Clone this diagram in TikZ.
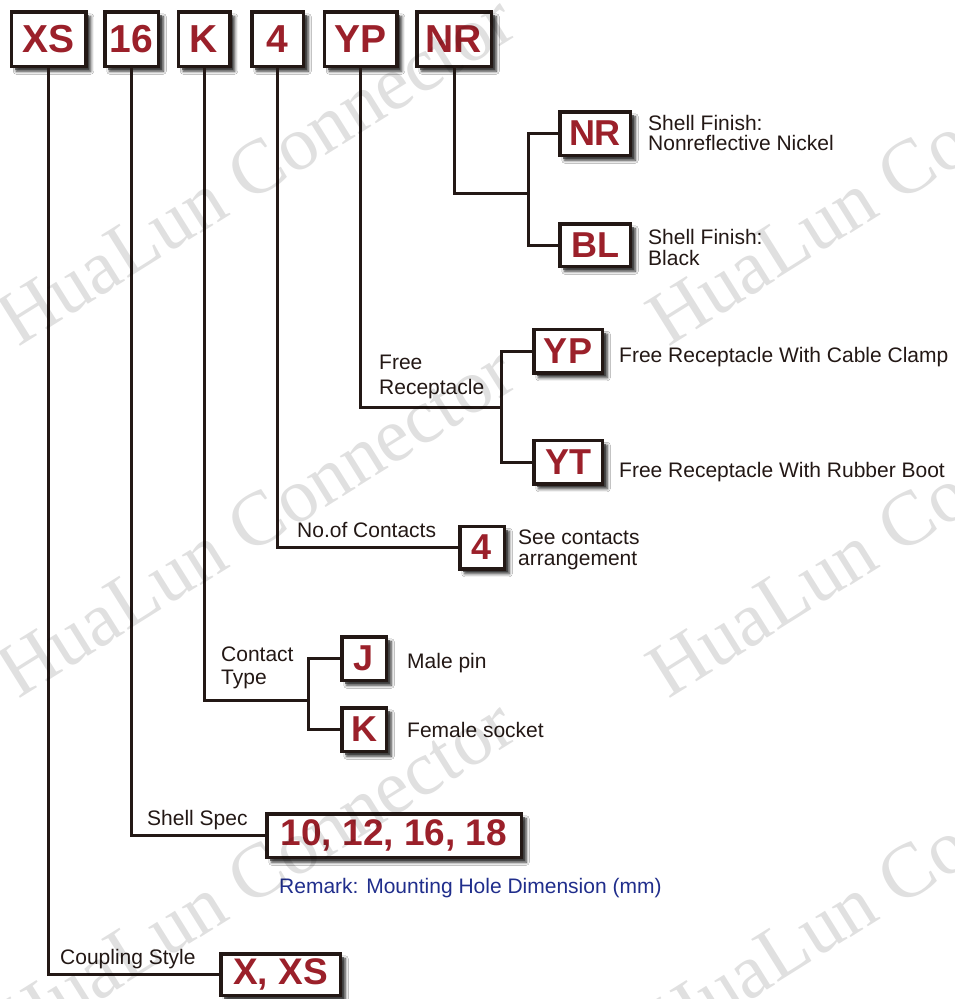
\documentclass[tikz,border=0pt]{standalone}
\usepackage{fontspec}
\setmainfont{Liberation Sans}
\newfontfamily\wmfont{Liberation Serif}
\usetikzlibrary{positioning,shadows,shadows.blur}
\definecolor{ink}{RGB}{35,24,21}
\definecolor{codered}{RGB}{155,32,42}
\definecolor{remarkblue}{RGB}{32,46,140}

\begin{document}
\begin{tikzpicture}[x=1pt, y=-1pt,
  every node/.style={inner sep=0pt},
  codebox/.style={draw=ink, line width=3.5pt, fill=white, text=codered,
    font=\bfseries\fontsize{39}{41}\selectfont, minimum height=54.5pt,
    blur shadow={shadow xshift=5pt, shadow yshift=-5pt, shadow blur radius=3pt, shadow opacity=80},
    drop shadow={shadow xshift=3.5pt, shadow yshift=-3.5pt, fill=black!75, opacity=.7}},
  subbox/.style={codebox, font=\bfseries\fontsize{36}{38}\selectfont, minimum height=43.5pt},
  lbl/.style={text=ink, font=\fontsize{21}{20.5}\selectfont, align=left},
  wire/.style={draw=ink, line width=3pt},
  wmark/.style={text=black, text opacity=0.12, font=\wmfont\fontsize{77}{77}\selectfont,
    rotate=32, anchor=base west}]
\useasboundingbox[fill=white] (0,0) rectangle (954,999);

% part number
\node[codebox, minimum width=74.5pt] (xs) at (48.5,39) {XS};
\node[codebox, minimum width=53.5pt] (sz) at (131.5,39) {16};
\node[codebox, minimum width=51.5pt] (ct) at (204,39) {K};
\node[codebox, minimum width=51.5pt] (nc) at (277.5,39) {4};
\node[codebox, minimum width=72.5pt] (fr) at (360.5,39) {YP};
\node[codebox, minimum width=74.5pt] (sf) at (454,39) {NR};

% options
\node[subbox, minimum width=70.5pt] (nr) at (595,133.5) {NR};
\node[subbox, minimum width=70.5pt, minimum height=42.5pt] (bl) at (595,245) {BL};
\node[subbox, minimum width=68.5pt] (yp) at (568,351) {YP};
\node[subbox, minimum width=68.5pt] (yt) at (568,462) {YT};
\node[subbox, minimum width=44.5pt, minimum height=42.5pt] (four) at (482,547.5) {4};
\node[subbox, minimum width=44.5pt] (j) at (364,658.5) {J};
\node[subbox, minimum width=44.5pt] (k) at (364,729.5) {K};
\node[codebox, font=\bfseries\fontsize{37}{39}\selectfont, minimum width=254.5pt,
  minimum height=43.5pt] (shell) at (394,835.5) {10, 12, 16, 18};
\node[codebox, font=\bfseries\fontsize{37}{39}\selectfont, minimum width=119.5pt,
  minimum height=41.5pt] (cpl) at (280.5,974.5) {X, XS};

% branches
\coordinate (sfbr) at (528,193);
\coordinate (frbr) at (501,407);
\coordinate (ctbr) at (308,700);
\draw[wire] (sf.south) |- (sfbr);
\draw[wire] (nr.west) -| (sfbr) |- (bl.west);
\draw[wire] (fr.south) |- (frbr);
\draw[wire] (yp.west) -| (frbr) |- (yt.west);
\draw[wire] (nc.south) |- (four.west);
\draw[wire] (ct.south) |- (ctbr);
\draw[wire] (j.west) -| (ctbr) |- (k.west);
\draw[wire] (sz.south) |- (shell.west);
\draw[wire] (xs.south) |- (cpl.west);

% texts
\node[lbl, anchor=north west] (nrtxt) at (648,115) {Shell Finish:\\Nonreflective Nickel};
\node[lbl, anchor=north west, font=\fontsize{21}{21}\selectfont] (bltxt) at (648,229) {Shell Finish:\\Black};
\node[lbl, anchor=north west, font=\fontsize{21}{25}\selectfont] (frtxt) at (379,355) {Free\\Receptacle};
\node[lbl, anchor=base west] (yptxt) at (619,362) {Free Receptacle With Cable Clamp};
\node[lbl, anchor=base west] (yttxt) at (619,477) {Free Receptacle With Rubber Boot};
\node[lbl, anchor=base west] (nctxt) at (297,537) {No.of Contacts};
\node[lbl, anchor=north west] (fourtxt) at (518,530) {See contacts\\arrangement};
\node[lbl, anchor=north west, font=\fontsize{21}{23}\selectfont] (cttxt) at (221,647) {Contact\\Type};
\node[lbl, anchor=base west] (jtxt) at (407,668) {Male pin};
\node[lbl, anchor=base west] (ktxt) at (407,737) {Female socket};
\node[lbl, anchor=base west] (sztxt) at (147,825) {Shell Spec};
\node[lbl, anchor=base west, text=remarkblue] (remark) at (279,893) {Remark: Mounting Hole Dimension (mm)};
\node[lbl, anchor=base west] (xstxt) at (60,964) {Coupling Style};

% watermark
\begin{scope}
\clip (0,0) rectangle (954,999);
\foreach \wx/\wy [count=\i] in {18/348,18/700,18/1052,668/348,668/700,668/1052}
  \node[wmark] (wm\i) at (\wx,\wy) {HuaLun Connector};
\end{scope}
\end{tikzpicture}
\end{document}
